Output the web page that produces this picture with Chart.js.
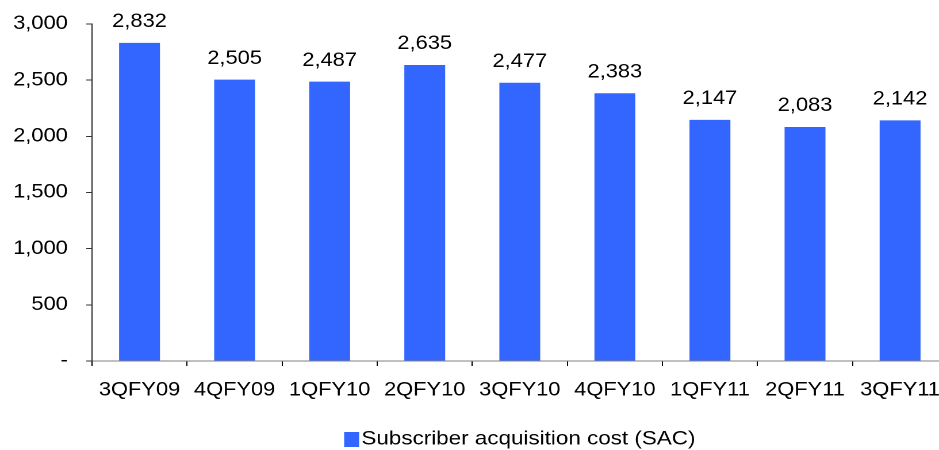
<!DOCTYPE html>
<html>
<head>
<meta charset="utf-8">
<script src="https://cdn.jsdelivr.net/npm/chart.js@4/dist/chart.umd.min.js"></script>
<style>
  html, body { margin: 0; padding: 0; background: #fff; overflow: hidden; }
  /* chart is drawn a bit narrow and stretched wide, like the exported original */
  #wrap { width: 826px; height: 450px; transform: scaleX(1.15); transform-origin: 0 0; }
</style>
</head>
<body>
<div id="wrap"><canvas id="sacChart" width="826" height="450"></canvas></div>
<script>
// Subscriber acquisition cost by quarter
const quarters = ['3QFY09', '4QFY09', '1QFY10', '2QFY10', '3QFY10', '4QFY10', '1QFY11', '2QFY11', '3QFY11'];
const sacValues = [2832, 2505, 2487, 2635, 2477, 2383, 2147, 2083, 2142];
const yTicks = [0, 500, 1000, 1500, 2000, 2500, 3000];

const FONT = { family: "'Liberation Sans', Arial, sans-serif", size: 19 };
const fmt = v => v.toLocaleString('en-US');

// value labels above each bar
const valueLabels = {
  id: 'valueLabels',
  afterDatasetsDraw(chart) {
    const ctx = chart.ctx;
    ctx.save();
    ctx.font = FONT.size + 'px ' + FONT.family;
    ctx.fillStyle = '#000';
    ctx.textAlign = 'center';
    ctx.textBaseline = 'middle';
    chart.getDatasetMeta(0).data.forEach((bar, i) => {
      ctx.fillText(fmt(chart.data.datasets[0].data[i]), bar.x, bar.y - 21);
    });
    ctx.restore();
  }
};

// legend swatch + label, centred under the plot
const bottomLegend = {
  id: 'bottomLegend',
  afterDraw(chart) {
    const ctx = chart.ctx;
    const ds = chart.data.datasets[0];
    const area = chart.chartArea;
    ctx.save();
    ctx.font = '19.5px ' + FONT.family;
    const tw = ctx.measureText(ds.label).width;
    const box = 13, gap = 2;
    const x0 = (area.left + area.right) / 2 - (box + gap + tw) / 2;
    const yc = 439;
    ctx.fillStyle = ds.backgroundColor;
    ctx.fillRect(x0, yc - 7, box, 15);
    ctx.fillStyle = '#000';
    ctx.textBaseline = 'middle';
    ctx.textAlign = 'left';
    ctx.fillText(ds.label, x0 + box + gap, yc);
    ctx.restore();
  }
};

// keep the plot box where the layout padding puts it
function noLabelPadding(scale) {
  scale.paddingTop = 0;
  scale.paddingBottom = 0;
  scale.paddingLeft = 0;
  scale.paddingRight = 0;
}

new Chart(document.getElementById('sacChart'), {
  type: 'bar',
  data: {
    labels: quarters,
    datasets: [{
      label: 'Subscriber acquisition cost (SAC)',
      data: sacValues,
      backgroundColor: '#3366FF',
      borderWidth: 0,
      categoryPercentage: 1,
      barPercentage: 0.43
    }]
  },
  options: {
    responsive: false,
    animation: false,
    devicePixelRatio: 2,
    layout: { padding: { top: 24, right: 2, bottom: 0, left: 0 } },
    plugins: {
      legend: { display: false },
      tooltip: { enabled: false }
    },
    scales: {
      x: {
        grid: { offset: true, drawOnChartArea: false, drawTicks: true, tickLength: 5, color: '#000' },
        border: { display: true, color: '#808080', width: 1 },
        ticks: { color: '#000', font: FONT, padding: 13, maxRotation: 0 },
        afterFit(scale) { scale.height = 89; noLabelPadding(scale); }
      },
      y: {
        min: 0,
        max: 3000,
        afterBuildTicks(scale) { scale.ticks = yTicks.map(v => ({ value: v })); },
        grid: { drawOnChartArea: false, drawTicks: true, tickLength: 5, color: '#333' },
        border: { display: true, color: '#333', width: 1 },
        ticks: {
          color: '#000',
          font: FONT,
          padding: 16,
          callback: v => v === 0 ? '-' : fmt(v)
        },
        afterFit(scale) { scale.width = 80; noLabelPadding(scale); }
      }
    }
  },
  plugins: [valueLabels, bottomLegend]
});
</script>
</body>
</html>
